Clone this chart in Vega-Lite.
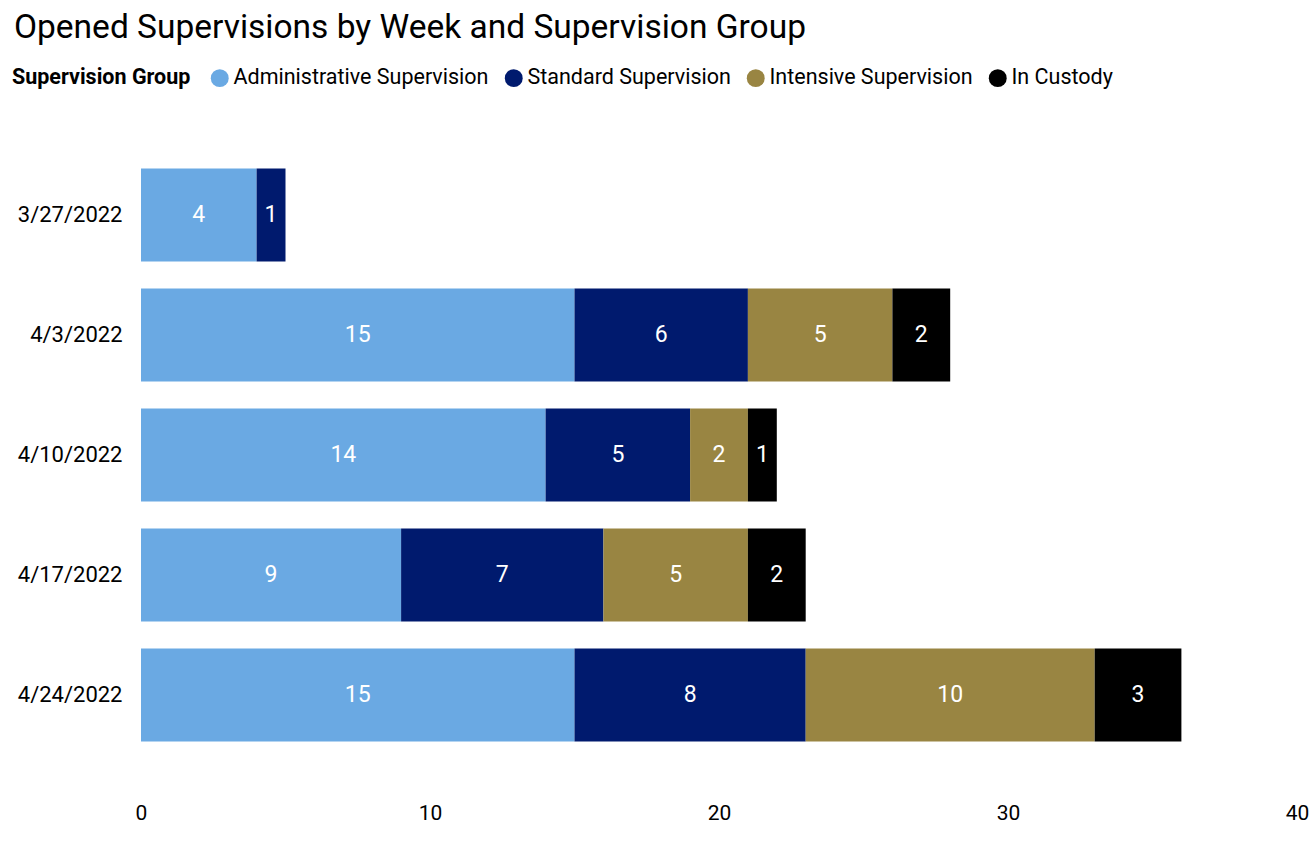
{
  "$schema": "https://vega.github.io/schema/vega-lite/v6.json",
  "width": 1156,
  "height": 600,
  "autosize": {"type": "none"},
  "padding": {"left": 141, "top": 155, "right": 16, "bottom": 86},
  "background": "white",
  "title": {
    "text": "Opened Supervisions by Week and Supervision Group",
    "anchor": "start",
    "frame": "group",
    "dx": -127,
    "offset": 22,
    "fontSize": 33.5,
    "fontWeight": "normal",
    "font": "Roboto",
    "color": "#000000"
  },
  "data": {
    "values": [
      {"week": "3/27/2022", "group": "Administrative Supervision", "k": 1, "count": 4},
      {"week": "3/27/2022", "group": "Standard Supervision", "k": 2, "count": 1},
      {"week": "4/3/2022", "group": "Administrative Supervision", "k": 1, "count": 15},
      {"week": "4/3/2022", "group": "Standard Supervision", "k": 2, "count": 6},
      {"week": "4/3/2022", "group": "Intensive Supervision", "k": 3, "count": 5},
      {"week": "4/3/2022", "group": "In Custody", "k": 4, "count": 2},
      {"week": "4/10/2022", "group": "Administrative Supervision", "k": 1, "count": 14},
      {"week": "4/10/2022", "group": "Standard Supervision", "k": 2, "count": 5},
      {"week": "4/10/2022", "group": "Intensive Supervision", "k": 3, "count": 2},
      {"week": "4/10/2022", "group": "In Custody", "k": 4, "count": 1},
      {"week": "4/17/2022", "group": "Administrative Supervision", "k": 1, "count": 9},
      {"week": "4/17/2022", "group": "Standard Supervision", "k": 2, "count": 7},
      {"week": "4/17/2022", "group": "Intensive Supervision", "k": 3, "count": 5},
      {"week": "4/17/2022", "group": "In Custody", "k": 4, "count": 2},
      {"week": "4/24/2022", "group": "Administrative Supervision", "k": 1, "count": 15},
      {"week": "4/24/2022", "group": "Standard Supervision", "k": 2, "count": 8},
      {"week": "4/24/2022", "group": "Intensive Supervision", "k": 3, "count": 10},
      {"week": "4/24/2022", "group": "In Custody", "k": 4, "count": 3}
    ]
  },
  "transform": [
    {"stack": "count", "groupby": ["week"], "sort": [{"field": "k", "order": "ascending"}], "as": ["x0", "x1"]},
    {"calculate": "(datum.x0 + datum.x1) / 2", "as": "xmid"}
  ],
  "encoding": {
    "y": {
      "field": "week",
      "type": "nominal",
      "sort": ["3/27/2022", "4/3/2022", "4/10/2022", "4/17/2022", "4/24/2022"],
      "title": null,
      "scale": {"paddingInner": 0.225, "paddingOuter": 0.1125},
      "axis": {
        "domain": false,
        "ticks": false,
        "labelPadding": 19,
        "labelFontSize": 22,
        "labelColor": "#000000",
        "labelFont": "Roboto"
      }
    }
  },
  "layer": [
    {
      "mark": {"type": "bar"},
      "encoding": {
        "x": {
          "field": "x0",
          "type": "quantitative",
          "title": null,
          "scale": {"domain": [0, 40]},
          "axis": {
            "values": [0, 10, 20, 30, 40],
            "grid": false,
            "domain": false,
            "ticks": false,
            "labelPadding": 47,
            "labelFontSize": 21,
            "labelColor": "#000000",
            "labelFont": "Roboto",
            "labelFlush": false
          }
        },
        "x2": {"field": "x1"},
        "color": {
          "field": "group",
          "type": "nominal",
          "scale": {
            "domain": ["Administrative Supervision", "Standard Supervision", "Intensive Supervision", "In Custody"],
            "range": ["#6AA9E3", "#001A6E", "#998542", "#000000"]
          },
          "legend": {
            "title": "Supervision Group",
            "orient": "none",
            "direction": "horizontal",
            "titleOrient": "left",
            "legendX": -129,
            "legendY": -88,
            "symbolType": "circle",
            "symbolSize": 320,
            "symbolOpacity": 1,
            "symbolStrokeWidth": 0,
            "labelFontSize": 21.5,
            "labelColor": "#000000",
            "labelFont": "Roboto",
            "labelLimit": 0,
            "labelOffset": 3,
            "columnPadding": 14,
            "titleFontSize": 21.5,
            "titleFontWeight": "bold",
            "titleColor": "#000000",
            "titleFont": "Roboto",
            "titlePadding": 18,
            "titleBaseline": "middle"
          }
        }
      }
    },
    {
      "mark": {"type": "text", "color": "white", "fontSize": 23, "font": "Roboto", "baseline": "middle", "align": "center"},
      "encoding": {
        "x": {"field": "xmid", "type": "quantitative"},
        "text": {"field": "count", "type": "quantitative"}
      }
    }
  ],
  "config": {
    "view": {"stroke": null}
  }
}
